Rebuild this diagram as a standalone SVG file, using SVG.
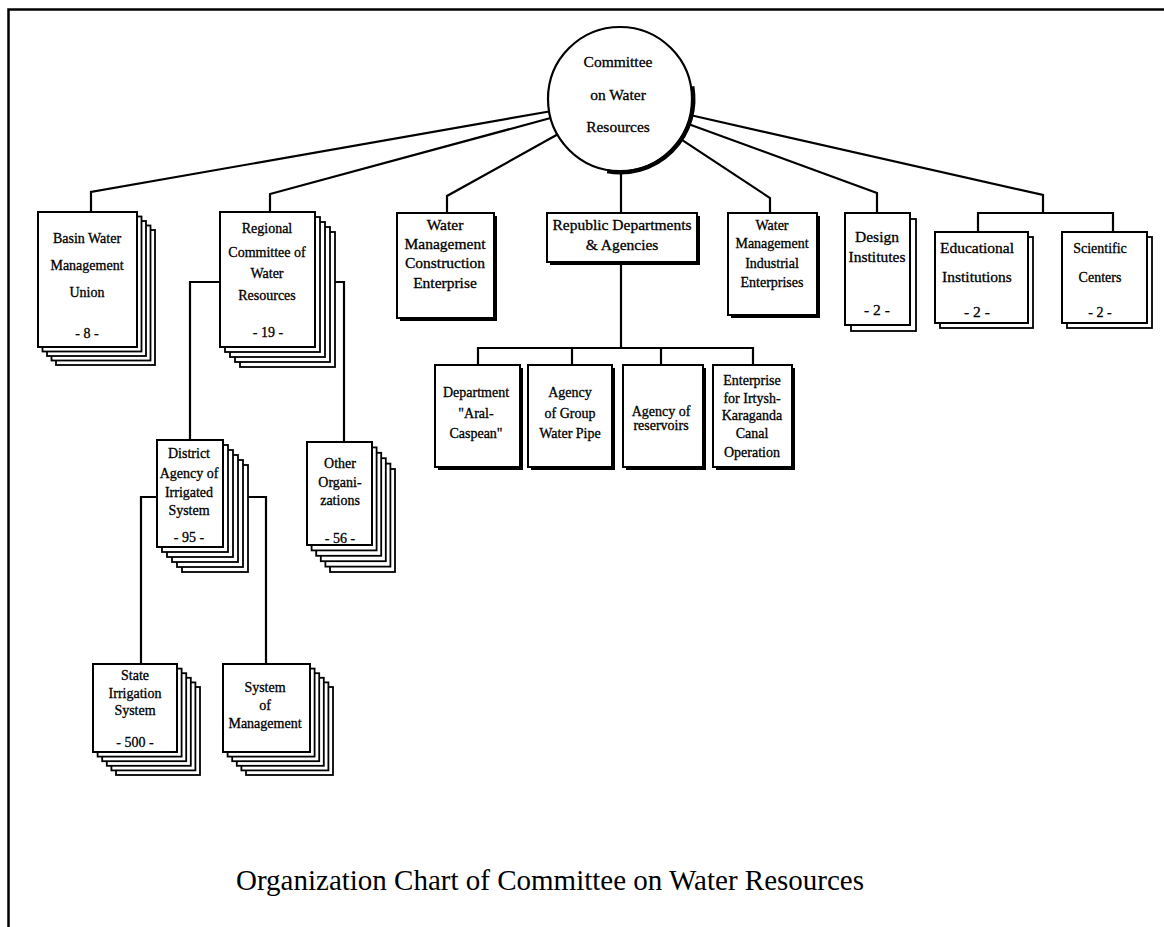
<svg xmlns="http://www.w3.org/2000/svg" width="1164" height="927" viewBox="0 0 1164 927">
  <style>
    .pg { fill: #fff; stroke: #000; stroke-width: 2; }
    .bk { fill: #fff; stroke: #000; stroke-width: 1.8; }
    .sh { fill: #000; }
    .ln { fill: none; stroke: #000; stroke-width: 2.2; stroke-linejoin: miter; }
    .t { font-family: "Liberation Serif", "Times New Roman", serif; font-size: 14px; text-anchor: middle; fill: #000; stroke: #000; stroke-width: 0.3; }
    .tc { font-size: 15.5px; }
    .title { font-family: "Liberation Serif", "Times New Roman", serif; font-size: 29px; text-anchor: middle; fill: #000; }
  </style>

  <rect width="1164" height="927" fill="#fff"/>

  <!-- page frame -->
  <path d="M8.5,927 V9.5 H1164" fill="none" stroke="#000" stroke-width="2.5"/>

  <!-- connectors -->
  <g id="connectors" class="ln">
    <path d="M549.1,111.5 L91,192 V212"/>
    <path d="M550.6,118 L270,194 V212"/>
    <path d="M557.4,134.5 L447,196 V213"/>
    <path d="M621,171 V213"/>
    <path d="M680,138.6 L770,198 V213"/>
    <path d="M687.6,123.7 L877,193 V213"/>
    <path d="M690,115 L1043,195 V213"/>
    <path d="M978,232 V213 H1113 V232"/>
    <path d="M621,262 V348"/>
    <path d="M478,365 V348 H753 V365"/>
    <path d="M572,348 V365"/>
    <path d="M661,348 V365"/>
    <path d="M220,282 H190 V440"/>
    <path d="M335,282 H344 V442"/>
    <path d="M157,497 H141 V664"/>
    <path d="M247,497 H266 V664"/>
  </g>

  <!-- root -->
  <g id="committee">
    <circle cx="620" cy="99" r="72" fill="#fff" stroke="#000" stroke-width="2.2"/>
    <path d="M692.4,86.3 A73.5,73.5 0 0 1 607.2,171.4" fill="none" stroke="#000" stroke-width="4"/>
    <text class="t tc" x="618" y="67">Committee</text>
    <text class="t tc" x="618" y="100">on Water</text>
    <text class="t tc" x="618" y="132">Resources</text>
  </g>

  <g id="basin">
    <rect class="bk" x="56" y="230" width="99" height="135"/>
    <rect class="bk" x="51.5" y="225.5" width="99" height="135"/>
    <rect class="bk" x="47" y="221" width="99" height="135"/>
    <rect class="bk" x="42.5" y="216.5" width="99" height="135"/>
    <rect class="pg" x="38" y="212" width="99" height="135"/>
    <text class="t" x="87" y="243">Basin Water</text>
    <text class="t" x="87" y="270">Management</text>
    <text class="t" x="87" y="297">Union</text>
    <text class="t" x="87" y="338">- 8 -</text>
  </g>

  <g id="regional">
    <rect class="bk" x="240" y="232" width="95" height="135"/>
    <rect class="bk" x="235" y="227" width="95" height="135"/>
    <rect class="bk" x="230" y="222" width="95" height="135"/>
    <rect class="bk" x="225" y="217" width="95" height="135"/>
    <rect class="pg" x="220" y="212" width="95" height="135"/>
    <text class="t" x="267" y="233">Regional</text>
    <text class="t" x="267" y="257">Committee of</text>
    <text class="t" x="267" y="278">Water</text>
    <text class="t" x="267" y="300">Resources</text>
    <text class="t" x="268" y="337">- 19 -</text>
  </g>

  <g id="construction">
    <rect class="sh" x="400" y="216" width="97" height="105"/>
    <rect class="pg" x="397" y="213" width="97" height="105"/>
    <text class="t tc" x="445" y="230">Water</text>
    <text class="t tc" x="445" y="249">Management</text>
    <text class="t tc" x="445" y="268">Construction</text>
    <text class="t tc" x="445" y="288">Enterprise</text>
  </g>

  <g id="republic">
    <rect class="sh" x="550" y="216" width="150" height="49"/>
    <rect class="pg" x="547" y="213" width="150" height="49"/>
    <text class="t tc" x="622" y="230">Republic Departments</text>
    <text class="t tc" x="622" y="250">&amp; Agencies</text>
  </g>

  <g id="industrial">
    <rect class="sh" x="731" y="216" width="89" height="102"/>
    <rect class="pg" x="728" y="213" width="89" height="102"/>
    <text class="t" x="772" y="230">Water</text>
    <text class="t" x="772" y="248">Management</text>
    <text class="t" x="772" y="268">Industrial</text>
    <text class="t" x="772" y="287">Enterprises</text>
  </g>

  <g id="design">
    <rect class="bk" x="851" y="219" width="65" height="112"/>
    <rect class="pg" x="845" y="213" width="65" height="112"/>
    <text class="t tc" x="877" y="242">Design</text>
    <text class="t tc" x="877" y="262">Institutes</text>
    <text class="t tc" x="877" y="315">- 2 -</text>
  </g>

  <g id="educational">
    <rect class="bk" x="940" y="237" width="93" height="91"/>
    <rect class="pg" x="935" y="232" width="93" height="91"/>
    <text class="t tc" x="977" y="253">Educational</text>
    <text class="t tc" x="977" y="282">Institutions</text>
    <text class="t tc" x="977" y="317">- 2 -</text>
  </g>

  <g id="scientific">
    <rect class="bk" x="1067" y="237" width="85" height="91"/>
    <rect class="pg" x="1062" y="232" width="85" height="91"/>
    <text class="t" x="1100" y="253">Scientific</text>
    <text class="t" x="1100" y="282">Centers</text>
    <text class="t" x="1100" y="317">- 2 -</text>
  </g>

  <g id="aral-caspean">
    <rect class="sh" x="438" y="368" width="85" height="102"/>
    <rect class="pg" x="435" y="365" width="85" height="102"/>
    <text class="t" x="476" y="397">Department</text>
    <text class="t" x="476" y="418">"Aral-</text>
    <text class="t" x="476" y="438">Caspean"</text>
  </g>

  <g id="water-pipe">
    <rect class="sh" x="531" y="368" width="84" height="102"/>
    <rect class="pg" x="528" y="365" width="84" height="102"/>
    <text class="t" x="570" y="397">Agency</text>
    <text class="t" x="570" y="418">of Group</text>
    <text class="t" x="570" y="438">Water Pipe</text>
  </g>

  <g id="reservoirs">
    <rect class="sh" x="626" y="368" width="80" height="102"/>
    <rect class="pg" x="623" y="365" width="80" height="102"/>
    <text class="t" x="661" y="416">Agency of</text>
    <text class="t" x="661" y="430">reservoirs</text>
  </g>

  <g id="canal">
    <rect class="sh" x="716" y="368" width="79" height="102"/>
    <rect class="pg" x="713" y="365" width="79" height="102"/>
    <text class="t" x="752" y="385">Enterprise</text>
    <text class="t" x="752" y="403">for Irtysh-</text>
    <text class="t" x="752" y="420">Karaganda</text>
    <text class="t" x="752" y="438">Canal</text>
    <text class="t" x="752" y="457">Operation</text>
  </g>

  <g id="district">
    <rect class="bk" x="182" y="465" width="66" height="107"/>
    <rect class="bk" x="177" y="460" width="66" height="107"/>
    <rect class="bk" x="172" y="455" width="66" height="107"/>
    <rect class="bk" x="167" y="450" width="66" height="107"/>
    <rect class="bk" x="162" y="445" width="66" height="107"/>
    <rect class="pg" x="157" y="440" width="66" height="107"/>
    <text class="t" x="189" y="458">District</text>
    <text class="t" x="189" y="478">Agency of</text>
    <text class="t" x="189" y="497">Irrigated</text>
    <text class="t" x="189" y="515">System</text>
    <text class="t" x="189" y="542">- 95 -</text>
  </g>

  <g id="other">
    <rect class="bk" x="330" y="469" width="65" height="103"/>
    <rect class="bk" x="325.4" y="463.6" width="65" height="103"/>
    <rect class="bk" x="320.8" y="458.2" width="65" height="103"/>
    <rect class="bk" x="316.2" y="452.8" width="65" height="103"/>
    <rect class="bk" x="311.6" y="447.4" width="65" height="103"/>
    <rect class="pg" x="307" y="442" width="65" height="103"/>
    <text class="t" x="340" y="468">Other</text>
    <text class="t" x="340" y="487">Organi-</text>
    <text class="t" x="340" y="505">zations</text>
    <text class="t" x="340" y="543">- 56 -</text>
  </g>

  <g id="state">
    <rect class="bk" x="116" y="687" width="84" height="88"/>
    <rect class="bk" x="111.4" y="682.4" width="84" height="88"/>
    <rect class="bk" x="106.8" y="677.8" width="84" height="88"/>
    <rect class="bk" x="102.2" y="673.2" width="84" height="88"/>
    <rect class="bk" x="97.6" y="668.6" width="84" height="88"/>
    <rect class="pg" x="93" y="664" width="84" height="88"/>
    <text class="t" x="135" y="680">State</text>
    <text class="t" x="135" y="698">Irrigation</text>
    <text class="t" x="135" y="715">System</text>
    <text class="t" x="135" y="747">- 500 -</text>
  </g>

  <g id="management">
    <rect class="bk" x="246" y="687" width="87" height="88"/>
    <rect class="bk" x="241.4" y="682.4" width="87" height="88"/>
    <rect class="bk" x="236.8" y="677.8" width="87" height="88"/>
    <rect class="bk" x="232.2" y="673.2" width="87" height="88"/>
    <rect class="bk" x="227.6" y="668.6" width="87" height="88"/>
    <rect class="pg" x="223" y="664" width="87" height="88"/>
    <text class="t" x="265" y="692">System</text>
    <text class="t" x="265" y="710">of</text>
    <text class="t" x="265" y="728">Management</text>
  </g>

  <text class="title" x="550" y="890">Organization Chart of Committee on Water Resources</text>
</svg>
